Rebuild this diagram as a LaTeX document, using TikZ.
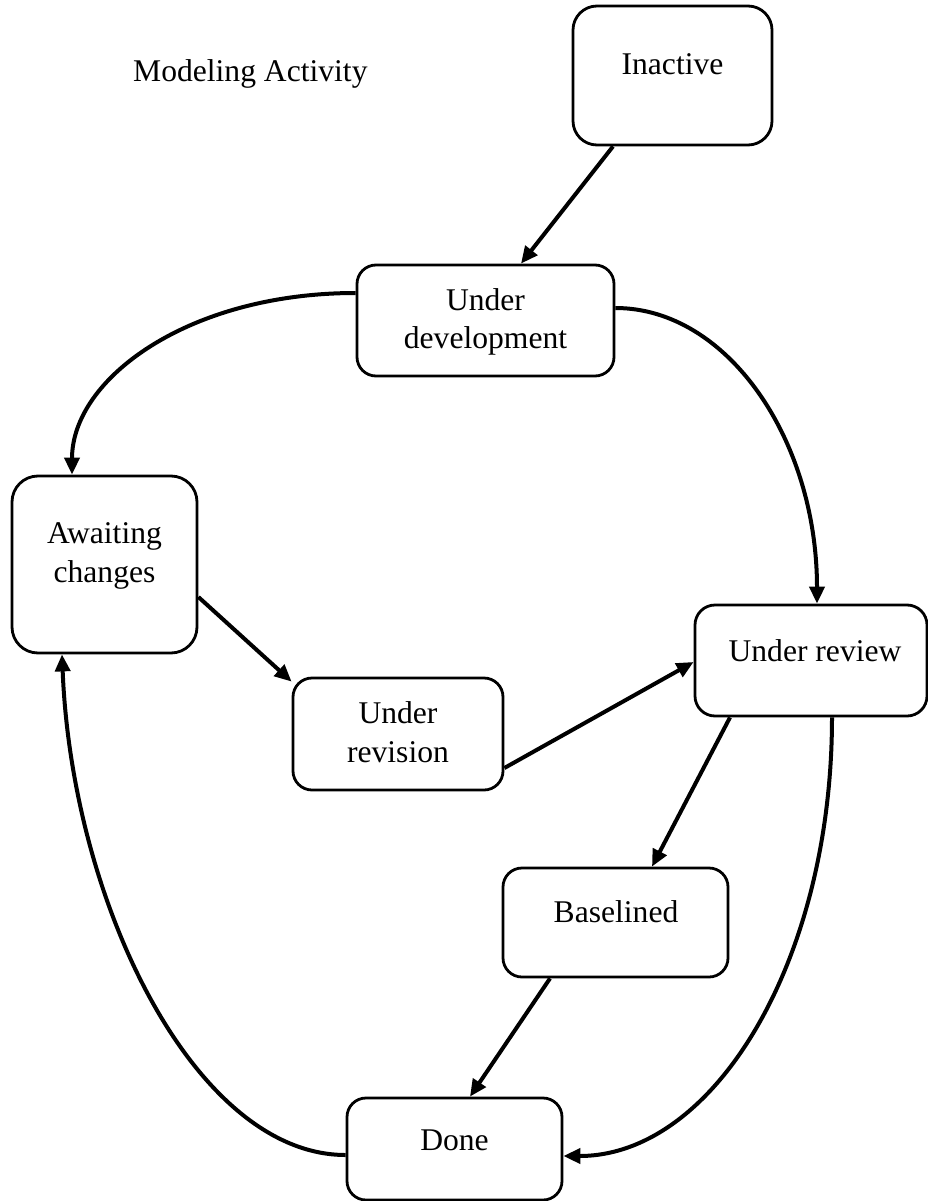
\documentclass[tikz,border=0pt]{standalone}
\usepackage{fontspec}
\setmainfont{Liberation Serif}
\usetikzlibrary{arrows.meta}
\begin{document}
\begin{tikzpicture}[x=1pt,y=-1pt,
  statebox/.style={draw=black, line width=2.8pt, rounded corners=#1, inner sep=0pt, fill=white},
  statebox/.default=19pt,
  lbl/.style={anchor=base, inner sep=0pt, font=\fontsize{31.6pt}{38pt}\selectfont},
  flow/.style={line width=4pt, -{Triangle[length=17pt,width=15pt]}},
]
\useasboundingbox (0,0) rectangle (928,1201);

% title
\node[lbl, anchor=base west] (title) at (133,82) {Modeling Activity};

% states
\node[statebox=24pt, minimum width=199pt, minimum height=139pt] (inactive) at (672.5,75.5) {};
\node[lbl] (inactive-l1) at (672.5,75) {Inactive};

\node[statebox, minimum width=257pt, minimum height=111pt] (udev) at (485.5,320.5) {};
\node[lbl] (udev-l1) at (485.5,310) {Under};
\node[lbl] (udev-l2) at (485.5,348) {development};

\node[statebox=26pt, minimum width=185pt, minimum height=177pt] (await) at (104.5,564.5) {};
\node[lbl] (await-l1) at (104.5,543) {Awaiting};
\node[lbl] (await-l2) at (104.5,582) {changes};

\node[statebox=20pt, minimum width=232pt, minimum height=111pt] (ureview) at (811,660.5) {};
\node[lbl] (ureview-l1) at (815,661) {Under review};

\node[statebox, minimum width=210pt, minimum height=112pt] (urev) at (398,734) {};
\node[lbl] (urev-l1) at (398,723) {Under};
\node[lbl] (urev-l2) at (398,762) {revision};

\node[statebox, minimum width=225pt, minimum height=109pt] (base) at (615.5,922.5) {};
\node[lbl] (base-l1) at (616,922) {Baselined};

\node[statebox, minimum width=215pt, minimum height=102pt] (done) at (454.5,1149) {};
\node[lbl] (done-l1) at (454.5,1150) {Done};

% transitions
\draw[flow] ([xshift=-59.5pt]inactive.south) -- ([xshift=35.5pt]udev.north);
\draw[flow] ([yshift=27.5pt]udev.west) .. controls +(-167,0) and +(0,-96) .. ([xshift=-32.5pt]await.north);
\draw[flow] ([yshift=12.5pt]udev.east) .. controls +(112,0) and +(0,-164) .. ([xshift=6pt]ureview.north);
\draw[flow] ([yshift=-32.5pt]await.east) -- ([yshift=-5pt]urev.north west);
\draw[flow] ([yshift=-34pt]urev.east) -- ([yshift=-1.5pt]ureview.west);
\draw[flow] ([xshift=-81pt]ureview.south) -- ([xshift=36.5pt]base.north);
\draw[flow] ([xshift=-65.5pt]base.south) -- ([xshift=15.5pt]done.north);
\draw[flow] ([xshift=21pt]ureview.south) .. controls +(0,245) and +(150,0) .. ([yshift=-7pt]done.east);
\draw[flow] ([yshift=-6pt]done.west) .. controls +(-150,0) and +(10,250) .. ([xshift=-42.5pt]await.south);
\end{tikzpicture}
\end{document}
